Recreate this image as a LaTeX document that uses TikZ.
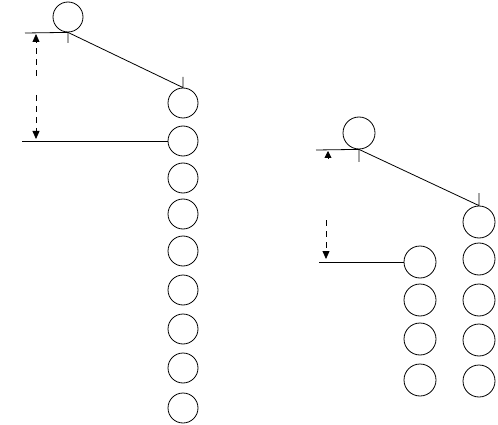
\documentclass[tikz,border=0pt]{standalone}
\usetikzlibrary{arrows.meta}
\begin{document}
\begin{tikzpicture}[x=1pt,y=-1pt,
  ball/.style={circle, draw, inner sep=0pt, minimum size=30pt, line width=0.8pt},
  bigball/.style={circle, draw, inner sep=0pt, minimum size=32pt, line width=0.8pt},
  wire/.style={line width=0.8pt},
  dimline/.style={line width=0.8pt, dash pattern=on 6pt off 5pt, -{Triangle[width=7pt,length=8pt]}},
  every path/.style={line width=0.8pt}]
\useasboundingbox (0,0) rectangle (498,425);
% ---- left diagram ----
\node[ball] (L0) at (68,17) {};
\foreach \i/\y in {1/103,2/141,3/178,4/214,5/251,6/290,7/329,8/368,9/408}
  \node[ball] (C\i) at (183,\y) {};
\coordinate (ltl) at (25,33);
\coordinate (lbl) at (22,141);
\coordinate (lti) at (68,43);
\coordinate (lto) at (183,77);
\draw[wire] (ltl) -- (L0.south) -- (lti);
\draw[wire] (L0.south) -- (C1.north) -- (lto);
\draw[wire] (lbl) -- (C2.west);
\coordinate (lu0) at (36,76);
\coordinate (lu1) at (36,34);
\coordinate (ld0) at (36,95);
\coordinate (ld1) at (36,139);
\draw[dimline] (lu0) -- (lu1);
\draw[dimline] (ld0) -- (ld1);
% ---- right diagram ----
\node[bigball] (R0) at (359,133) {};
\foreach \i/\y in {1/222,2/259,3/300,4/340,5/381}
  \node[bigball] (D\i) at (479,\y) {};
\foreach \i/\y in {2/262,3/300,4/339,5/380}
  \node[bigball] (E\i) at (420,\y) {};
\coordinate (rtl) at (316,150);
\coordinate (rti) at (359,162);
\coordinate (rto) at (479,193);
\coordinate (rbl) at (319,262);
\draw[wire] (rtl) -- (R0.south) -- (rti);
\draw[wire] (R0.south) -- (D1.north) -- (rto);
\draw[wire] (rbl) -- (E2.west);
\coordinate (ru0) at (328,158);
\coordinate (ru1) at (328,151);
\draw[-{Triangle[width=7pt,length=7pt]}] (ru0) -- (ru1);
\coordinate (rd0) at (326,220);
\coordinate (rd1) at (326,259);
\draw[dimline] (rd0) -- (rd1);
\end{tikzpicture}
\end{document}
